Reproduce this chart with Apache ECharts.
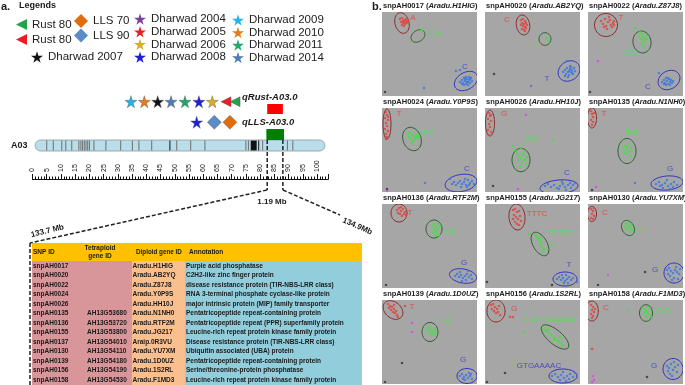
<!DOCTYPE html>
<html>
<head>
<meta charset="utf-8">
<script src="https://cdn.jsdelivr.net/npm/echarts@6/dist/echarts.min.js"></script>
<style>
html, body { margin: 0; padding: 0; background: #fff; }
#main { width: 685px; height: 385px; }
</style>
</head>
<body>
<div id="main"></div>
<script>
var FONT = "'Liberation Sans', Arial, sans-serif";

// ---- chromosome A03 (cM) ----
var bandPos = [5.0, 7.3, 10.3, 11.7, 13.8, 16.3, 17.0, 17.6, 18.2, 18.8, 19.4, 20.0, 21.6, 25.8, 31.0,
               35.1, 37.4, 41.9, 48.3, 50.7, 55.6, 60.6, 75.0, 75.9, 79.5, 80.9, 89.6, 91.5];
var darkBlock = [76.7, 78.8];
var qtlRust = [82.5, 88.0];
var qtlLLS = [82.2, 88.4];
var row1Traits = ['Dharwad 2009', 'Dharwad 2010', 'Dharwad 2007', 'Dharwad 2014', 'Dharwad 2011',
                  'Dharwad 2008', 'Dharwad 2006', 'Rust 80 ', 'Rust 80'];
var row1Pos = [34.6, 39.3, 44.0, 48.7, 53.6, 58.5, 63.2, 68.0, 71.2];
var row2Traits = ['Dharwad 2008', 'LLS 90', 'LLS 70'];
var row2Pos = [57.7, 63.9, 69.4];

// ---- gene table ----
var snpIds = ['snpAH0017', 'snpAH0020', 'snpAH0022', 'snpAH0024', 'snpAH0026', 'snpAH0135', 'snpAH0136',
              'snpAH0155', 'snpAH0137', 'snpAH0130', 'snpAH0139', 'snpAH0156', 'snpAH0158'];
var tetraIds = ['', '', '', '', '', 'AH13G53680', 'AH13G53720', 'AH13G53800', 'AH13G54010', 'AH13G54110',
                'AH13G54180', 'AH13G54190', 'AH13G54530'];
var diploidIds = ['Aradu.H1HIG', 'Aradu.AB2YQ', 'Aradu.Z87J8', 'Aradu.Y0P9S', 'Aradu.HH10J', 'Aradu.N1NH0',
                  'Aradu.RTF2M', 'Aradu.JG217', 'Araip.0R3VU', 'Aradu.YU7XM', 'Aradu.1D0UZ', 'Aradu.1S2RL', 'Aradu.F1MD3'];
var annotations = ['Purple acid phosphatase', 'C2H2-like zinc finger protein',
  'disease resistance protein (TIR-NBS-LRR class)', 'RNA 3-terminal phosphate cyclase-like protein',
  'major intrinsic protein (MIP) family transporter', 'Pentatricopeptide repeat-containing protein',
  'Pentatricopeptide repeat (PPR) superfamily protein', 'Leucine-rich repeat protein kinase family protein',
  'Disease resistance protein (TIR-NBS-LRR class)', 'Ubiquitin associated (UBA) protein',
  'Pentatricopeptide repeat-containing protein', 'Serine/threonine-protein phosphatase',
  'Leucine-rich repeat protein kinase family protein'];

// ---- genotyping cluster plots: [x, y, group]  group 0 red,1 green,2 blue,3 magenta,4 black ----
var panelSnp = ['snpAH0017', 'snpAH0020', 'snpAH0022', 'snpAH0024', 'snpAH0026', 'snpAH0135',
                'snpAH0136', 'snpAH0155', 'snpAH0130', 'snpAH0139', 'snpAH0156', 'snpAH0158'];
var panelGene = ['Aradu.H1HIG', 'Aradu.AB2YQ', 'Aradu.Z87J8', 'Aradu.Y0P9S', 'Aradu.HH10J', 'Aradu.N1NH0',
                 'Aradu.RTF2M', 'Aradu.JG217', 'Aradu.YU7XM', 'Aradu.1D0UZ', 'Aradu.1S2RL', 'Aradu.F1MD3'];

var pts0017 = [[18,7,0],[20,6,0],[22,8,0],[24,9,0],[19,10,0],[21,11,0],[23,12,0],[25,11,0],[20,13,0],[22,14,0],[24,7,0],[26,9,0],[21,9,0],[23,10,0],
  [38,19,1],[40,18,1],
  [78,70,2],[80,68,2],[81,71,2],[82,66,2],[83,69,2],[84,72,2],[85,67,2],[86,70,2],[87,68,2],[88,71,2],[89,66,2],[90,69,2],[82,73,2],[84,65,2],[86,73,2],[88,67,2],[80,72,2],[85,70,2],[87,65,2],[83,67,2],
  [74,59,2],[78,58,2],[42,76,2],[3,80,4]];
var ell0017 = [[20,11,7,10.5,-15,0],[36,24,7.5,5.5,-35,1],[84,69,12.5,8.5,-30,2]];
var lab0017 = [[31,6,'A',0],[53,22,'C:A',1],[83,55,'C',2]];

var pts0020 = [[36,8,0],[38,7,0],[40,9,0],[37,11,0],[39,12,0],[41,11,0],[38,14,0],[40,15,0],[42,13,0],[37,17,0],[39,18,0],[41,16,0],[36,13,0],[40,19,0],
  [61,26,1],[63,28,1],
  [78,60,2],[80,58,2],[81,62,2],[82,56,2],[83,60,2],[84,63,2],[85,57,2],[86,60,2],[87,58,2],[88,62,2],[89,56,2],[90,59,2],[83,65,2],[85,54,2],[80,64,2],[87,61,2],[84,59,2],[86,55,2],
  [82,49,2],[46,74,2],[9,62,4]];
var ell0020 = [[38,13,6.7,10,-10,0],[60,27,6,6.3,0,1],[84,59,11.5,9.5,-35,2]];
var lab0020 = [[22,8,'C',0],[48,34,'C:T',1],[62,67,'T',2]];

var pts0022 = [[13,9,0],[15,12,0],[17,7,0],[18,14,0],[20,10,0],[22,8,0],[23,13,0],[25,11,0],[26,9,0],[24,15,0],[19,17,0],[21,5,0],[16,15,0],[26,13,0],
  [52,20,1],[54,22,1],[55,25,1],[53,27,1],[56,28,1],[58,24,1],[57,30,1],[54,31,1],[55,34,1],[57,36,1],[51,24,1],[59,27,1],[47,16,1],
  [74,70,2],[76,68,2],[77,71,2],[78,66,2],[79,69,2],[80,72,2],[81,67,2],[82,70,2],[83,68,2],[84,71,2],[85,69,2],[78,73,2],[80,66,2],[82,73,2],[76,72,2],
  [71,61,2],[10,49,3],[2,80,4]];
var ell0022 = [[18,13,11.5,11.5,0,0],[54,30,9,11,-10,1],[81,68,11.5,9,-30,2]];
var lab0022 = [[33,6,'T',0],[41,41,'C:T',1],[60,75,'C',2]];

var pts0024 = [[4,4,0],[5,7,0],[3,10,0],[6,12,0],[4,15,0],[5,18,0],[3,21,0],[6,23,0],[4,26,0],[5,29,0],[4,31,0],[6,9,0],
  [26,26,1],[28,25,1],[30,27,1],[32,28,1],[34,29,1],[36,30,1],[29,31,1],[31,33,1],[27,29,1],[33,31,1],[35,27,1],[30,35,1],[37,28,1],
  [70,76,2],[72,74,2],[74,77,2],[76,75,2],[78,73,2],[80,76,2],[82,74,2],[84,77,2],[86,72,2],[88,75,2],[90,73,2],[92,76,2],[79,79,2],[83,71,2],[85,79,2],[87,77,2],
  [43,75,2],[68,71,2],[5,81,4],[5,83,3]];
var ell0024 = [[5,16,4,15,0,0],[30,31,9,12,-20,1],[79,75,16,8.5,-10,2]];
var lab0024 = [[17,6,'T',0],[46,25,'T:C',1],[85,61,'C',2]];

var pts0026 = [[4,5,0],[5,8,0],[3,11,0],[6,13,0],[4,16,0],[5,19,0],[3,22,0],[6,24,0],[4,27,0],[6,7,0],
  [30,42,1],[32,45,1],[34,48,1],[36,50,1],[38,47,1],[40,52,1],[37,55,1],[35,58,1],[39,44,1],[42,49,1],[33,52,1],[41,56,1],[36,40,1],[28,38,1],[68,32,1],
  [60,78,2],[63,76,2],[66,79,2],[69,77,2],[72,80,2],[75,78,2],[78,76,2],[80,79,2],[83,77,2],[86,80,2],[88,77,2],[90,75,2],[74,81,2],[81,82,2],[77,74,2],[85,75,2],
  [41,7,3],[33,81,3],[8,78,4]];
var ell0026 = [[5,15,4.5,13,0,0],[36,52,9,11.7,0,1],[74,79,19,7,-5,2]];
var lab0026 = [[19,6,'G',0],[47,31,'G:C',1],[82,65,'C',2]];

var pts0135 = [[3,3,0],[4,6,0],[5,9,0],[3,12,0],[5,14,0],[4,17,0],[6,5,0],
  [35,40,1],[37,38,1],[39,42,1],[41,44,1],[43,40,1],[38,46,1],[40,36,1],[42,48,1],[36,44,1],[44,43,1],[39,39,1],
  [68,76,2],[71,74,2],[74,77,2],[77,75,2],[80,78,2],[83,76,2],[86,74,2],[89,77,2],[75,80,2],[82,81,2],[79,72,2],[85,79,2],[72,78,2],
  [47,75,2],[8,79,3],[4,82,4]];
var ell0135 = [[4,10,4.5,10,0,0],[39,43,9,12.5,0,1],[79,75,16,7,-5,2]];
var lab0135 = [[16,6,'T',0],[44,25,'T:G',1],[82,61,'G',2]];

var pts0136 = [[15,6,0],[17,4,0],[19,7,0],[21,5,0],[23,8,0],[18,10,0],[20,12,0],[22,10,0],[16,9,0],[24,11,0],[19,3,0],
  [50,22,1],[52,20,1],[54,23,1],[56,25,1],[53,27,1],[55,29,1],[57,31,1],[51,29,1],[58,22,1],[54,32,1],[52,25,1],[56,20,1],
  [73,72,2],[75,70,2],[77,73,2],[79,71,2],[81,74,2],[83,72,2],[85,70,2],[87,73,2],[89,71,2],[80,77,2],[84,76,2],[78,68,2],[86,67,2],[90,75,2],
  [4,81,4]];
var ell0136 = [[17,9,8,9,0,0],[52,25,8,9,0,1],[81,72,13.7,7,10,2]];
var lab0136 = [[28,9,'T',0],[68,28,'TG',1],[82,59,'G',2]];

var pts0155 = [[28,6,0],[30,5,0],[32,8,0],[34,7,0],[29,11,0],[31,13,0],[33,15,0],[35,12,0],[30,18,0],[32,20,0],[36,17,0],[34,21,0],[28,15,0],
  [50,31,1],[52,33,1],[54,36,1],[56,38,1],[55,41,1],[57,43,1],[59,45,1],[58,48,1],[53,35,1],[56,34,1],[44,30,1],[67,41,1],
  [72,75,2],[74,73,2],[76,76,2],[78,74,2],[80,77,2],[82,75,2],[84,73,2],[86,76,2],[88,74,2],[79,79,2],[83,79,2],[77,71,2],[81,71,2],[92,78,2],
  [67,81,4],[2,78,4]];
var ell0155 = [[32,13,8,13,-5,0],[55,40,13,7,60,1],[80,75,12,7,0,2]];
var lab0155 = [[52,10,'TTTC',0],[79,29,'TTTC:T',1],[84,61,'T',2]];

var pts0130 = [[3,5,0],[5,7,0],[4,10,0],[6,12,0],[3,14,0],[5,15,0],[6,4,0],
  [38,20,1],[40,22,1],[42,24,1],[44,26,1],[39,25,1],[41,28,1],[43,21,1],[37,23,1],[40,18,1],
  [79,66,2],[81,64,2],[83,67,2],[85,69,2],[87,66,2],[89,68,2],[91,70,2],[82,72,2],[86,74,2],[88,63,2],[80,70,2],[84,76,2],[90,75,2],[92,65,2],
  [20,71,3],[57,68,4],[10,81,4]];
var ell0130 = [[4,10,4.5,7.5,0,0],[40,24,6,8,-30,1],[86,69,10,10,0,2]];
var lab0130 = [[17,9,'C',0],[55,26,'G:C',1],[67,66,'G',2]];

var pts0139 = [[6,4,0],[8,6,0],[10,7,0],[12,9,0],[9,10,0],[11,12,0],[13,13,0],[15,15,0],[14,11,0],[16,17,0],[7,8,0],[12,5,0],[23,6,0],
  [45,28,1],[47,27,1],[49,30,1],[51,31,1],[53,29,1],[48,33,1],[50,35,1],[52,34,1],[46,31,1],[54,32,1],
  [78,76,2],[80,74,2],[82,77,2],[84,75,2],[86,78,2],[88,76,2],[90,79,2],[83,80,2],[87,73,2],[81,79,2],[89,74,2],
  [30,23,3],[30,32,3],[20,63,4],[3,82,4]];
var ell0139 = [[11,10,11,8,40,0],[48,32,8,9.5,0,1],[85,76,10,7.5,0,2]];
var lab0139 = [[30,7,'T',0],[63,22,'T:G',1],[81,60,'G',2]];

var pts0156 = [[6,5,0],[8,4,0],[10,7,0],[12,9,0],[9,11,0],[11,13,0],[13,12,0],[15,15,0],[7,9,0],[14,6,0],[25,17,0],[28,17,0],
  [58,29,1],[60,30,1],[62,31,1],[64,33,1],[66,35,1],[68,36,1],[70,38,1],[72,40,1],[74,41,1],[76,43,1],[78,45,1],[63,29,1],[69,40,1],[75,37,1],[39,32,1],
  [67,76,2],[70,74,2],[73,77,2],[76,75,2],[79,78,2],[82,76,2],[85,74,2],[88,77,2],[75,80,2],[81,81,2],[78,72,2],[84,79,2],[90,73,2],
  [20,73,4],[2,82,4]];
var ell0156 = [[11,11,9,11,0,0],[70,37,17,7,40,1],[78,76,14,7,0,2]];
var lab0156 = [[29,9,'G',0],[64,20,'G:GTGAAAAC',1],[54,66,'GTGAAAAC',2]];

var pts0158 = [[3,5,0],[5,7,0],[4,10,0],[6,12,0],[3,14,0],[5,16,0],[7,9,0],[4,18,0],[4,49,0],
  [55,8,1],[57,10,1],[59,12,1],[61,14,1],[58,16,1],[60,7,1],[62,10,1],[56,13,1],[63,17,1],[40,10,1],
  [79,66,2],[81,68,2],[83,64,2],[85,70,2],[87,67,2],[89,72,2],[82,74,2],[86,62,2],[90,65,2],[84,76,2],[80,71,2],
  [5,76,3],[6,80,3],[4,82,3],[59,77,4]];
var ell0158 = [[4,11,6.3,10,0,0],[58,13,6.5,8.3,0,1],[85,69,10,10.5,0,2]];
var lab0158 = [[18,8,'C',0],[75,11,'C:G',1],[66,66,'G',2]];

var panelPts = [pts0017, pts0020, pts0022, pts0024, pts0026, pts0135, pts0136, pts0155, pts0130, pts0139, pts0156, pts0158];
var panelEll = [ell0017, ell0020, ell0022, ell0024, ell0026, ell0135, ell0136, ell0155, ell0130, ell0139, ell0156, ell0158];
var panelLab = [lab0017, lab0020, lab0022, lab0024, lab0026, lab0135, lab0136, lab0155, lab0130, lab0139, lab0156, lab0158];

// ---- styles ----
var STAR = 'path://M50 0L61 35L98 35L68 57L79 91L50 70L21 91L32 57L2 35L39 35Z';
var TRI = 'path://M0 50L100 0L100 100Z';
var traitStyle = {
  'Rust 80':      { sym: TRI, color: '#22a24a', size: 10 },
  'Rust 80 ':     { sym: TRI, color: '#ec1c24', size: 10 },
  'LLS 70':       { sym: 'diamond', color: '#e36c0a', size: 14 },
  'LLS 90':       { sym: 'diamond', color: '#5b8cc7', size: 14 },
  'Dharwad 2004': { sym: STAR, color: '#7b3f9e', size: 12 },
  'Dharwad 2005': { sym: STAR, color: '#ec1c24', size: 12 },
  'Dharwad 2006': { sym: STAR, color: '#d8ad2c', size: 12 },
  'Dharwad 2007': { sym: STAR, color: '#111111', size: 12 },
  'Dharwad 2008': { sym: STAR, color: '#1f1fd6', size: 12 },
  'Dharwad 2009': { sym: STAR, color: '#22b4e6', size: 12 },
  'Dharwad 2010': { sym: STAR, color: '#e47b22', size: 12 },
  'Dharwad 2011': { sym: STAR, color: '#1fa86c', size: 12 },
  'Dharwad 2014': { sym: STAR, color: '#4e7db4', size: 12 }
};
var legendGroups = [
  { left: 16, top: 18.5, h: 11, gap: 3, names: ['Rust 80', 'Rust 80 '] },
  { left: 31, top: 51, h: 12, gap: 2, names: ['Dharwad 2007'] },
  { left: 74, top: 14, h: 14, gap: 0.5, names: ['LLS 70', 'LLS 90'] },
  { left: 134, top: 13, h: 12, gap: 0.7, names: ['Dharwad 2004', 'Dharwad 2005', 'Dharwad 2006', 'Dharwad 2008'] },
  { left: 232, top: 14, h: 12, gap: 0.5, names: ['Dharwad 2009', 'Dharwad 2010', 'Dharwad 2011', 'Dharwad 2014'] }
];
var pointColors = ['#e0463e', '#3fe23f', '#3b78e0', '#e044e0', '#333333'];
var ellColors = ['#8b1c1c', '#1d5a1d', '#2323c8'];
var labColors = ['#e83a30', '#3af03a', '#3636c8'];
var panelLeft = [382, 485, 588];
var panelTop = [12, 108, 204, 300];
var PW = 95, PH = 84;

var dom = document.getElementById('main');
var myChart = echarts.init(dom, null, { renderer: 'canvas' });

var grids = [{ left: 32.5, top: 95, width: 104 * 2.845, height: 84 }];
var xAxes = [{
  type: 'value', gridIndex: 0, min: 0, max: 104, interval: 5, position: 'bottom',
  axisLine: { onZero: false, lineStyle: { color: '#111', width: 1 } },
  axisTick: { inside: true, length: 5, lineStyle: { color: '#111' } },
  minorTick: { show: true, splitNumber: 5, length: 2.5, lineStyle: { color: '#111' } },
  axisLabel: { inside: true, rotate: 90, margin: 7, fontSize: 7, color: '#111',
    fontFamily: "'Liberation Sans Narrow', 'Liberation Sans', Arial",
    formatter: function (v) { return v > 100 ? '' : v; } },
  splitLine: { show: false }
}];
var yAxes = [{ type: 'value', gridIndex: 0, min: 0, max: 84, inverse: true, show: false }];
var titles = [];
var series = [];

// chromosome body and bands
series.push({
  type: 'custom', xAxisIndex: 0, yAxisIndex: 0, silent: true, clip: false, z: 2,
  data: [[0.9, 102.8]],
  renderItem: function (params, api) {
    var p0 = api.coord([api.value(0), 45]);
    var p1 = api.coord([api.value(1), 56]);
    return { type: 'rect', shape: { x: p0[0], y: p0[1], width: p1[0] - p0[0], height: p1[1] - p0[1], r: 5.5 },
      style: { fill: '#b9dde9', stroke: '#8a9aa0', lineWidth: 0.8 } };
  }
});
series.push({
  type: 'custom', xAxisIndex: 0, yAxisIndex: 0, silent: true, clip: false, z: 3,
  data: bandPos.map(function (b) { return [b, b]; }).concat([darkBlock]),
  renderItem: function (params, api) {
    var a = api.value(0), b = api.value(1);
    var p0 = api.coord([a, 45.6]);
    var p1 = api.coord([b, 55.4]);
    var w = Math.max(p1[0] - p0[0], 1);
    var dark = (b > a) || a === 48.3 || a === 79.5;
    return { type: 'rect', shape: { x: p0[0] - (b > a ? 0 : 0.5), y: p0[1], width: w, height: p1[1] - p0[1] },
      style: { fill: dark ? '#111' : '#6e6e6e' } };
  }
});
// QTL boxes and dashed zoom lines
series.push({
  type: 'custom', xAxisIndex: 0, yAxisIndex: 0, silent: true, clip: false, z: 4,
  data: [[qtlRust[0], qtlRust[1], 9, 19, 0], [qtlLLS[0], qtlLLS[1], 34, 45, 1]],
  renderItem: function (params, api) {
    var p0 = api.coord([api.value(0), api.value(2)]);
    var p1 = api.coord([api.value(1), api.value(3)]);
    return { type: 'rect', shape: { x: p0[0], y: p0[1], width: p1[0] - p0[0], height: p1[1] - p0[1] },
      style: { fill: api.value(4) === 0 ? '#ff0000' : '#008000' } };
  }
});
series.push({
  type: 'custom', xAxisIndex: 0, yAxisIndex: 0, silent: true, clip: false, z: 5,
  data: [[qtlRust[0]], [qtlRust[1]]],
  renderItem: function (params, api) {
    var p0 = api.coord([api.value(0), 45]);
    var p1 = api.coord([api.value(0), 95]);
    return { type: 'line', shape: { x1: p0[0], y1: p0[1], x2: p1[0], y2: p1[1] },
      style: { stroke: '#222', lineWidth: 1.5, lineDash: [4, 2] } };
  }
});

// trait markers above the chromosome
Object.keys(traitStyle).forEach(function (name) {
  var st = traitStyle[name];
  var data = [];
  row1Traits.forEach(function (t, i) { if (t === name) data.push([row1Pos[i], 6.7]); });
  row2Traits.forEach(function (t, i) { if (t === name) data.push([row2Pos[i], 27.3]); });
  series.push({
    name: name, type: 'scatter', xAxisIndex: 0, yAxisIndex: 0, z: 6,
    symbol: st.sym, symbolSize: st.size, data: data,
    itemStyle: { color: st.color, borderColor: '#555', borderWidth: 0.4, opacity: 1 }
  });
});

function ellipseItem(params, api) {
  var cx = api.value(0), cy = api.value(1), rx = api.value(2), ry = api.value(3);
  var a = api.value(4) * Math.PI / 180;
  var pts = [];
  for (var k = 0; k < 48; k++) {
    var t = k / 48 * 2 * Math.PI;
    pts.push(api.coord([
      cx + rx * Math.cos(t) * Math.cos(a) - ry * Math.sin(t) * Math.sin(a),
      cy + rx * Math.cos(t) * Math.sin(a) + ry * Math.sin(t) * Math.cos(a)
    ]));
  }
  return { type: 'polygon', shape: { points: pts },
    style: { fill: 'none', stroke: ellColors[api.value(5)], lineWidth: 0.9 } };
}

panelSnp.forEach(function (snp, i) {
  var gi = i + 1;
  var left = panelLeft[i % 3], top = panelTop[Math.floor(i / 3)];
  grids.push({ left: left, top: top, width: PW, height: PH, show: true, backgroundColor: '#a6a6a6', borderWidth: 0 });
  xAxes.push({ type: 'value', gridIndex: gi, min: 0, max: PW, show: false });
  yAxes.push({ type: 'value', gridIndex: gi, min: 0, max: PH, inverse: true, show: false });
  titles.push({
    text: snp + ' ({i|' + panelGene[i] + '})', left: left + 1, top: top - 10, padding: 0,
    textStyle: { fontSize: 7.5, fontWeight: 'bold', color: '#222', fontFamily: FONT,
      rich: { i: { fontSize: 7.5, fontWeight: 'bold', fontStyle: 'italic', color: '#222', fontFamily: FONT } } }
  });
  series.push({
    type: 'scatter', xAxisIndex: gi, yAxisIndex: gi, symbol: 'circle', symbolSize: 2.6, silent: true,
    data: panelPts[i],
    itemStyle: { color: function (p) { return pointColors[p.data[2]]; } }
  });
  series.push({
    type: 'custom', xAxisIndex: gi, yAxisIndex: gi, silent: true, clip: true,
    data: panelEll[i], renderItem: ellipseItem
  });
  series.push({
    type: 'scatter', xAxisIndex: gi, yAxisIndex: gi, symbolSize: 0, silent: true,
    data: panelLab[i].map(function (l) {
      return { value: [l[0], l[1]], name: l[2],
        label: { show: true, position: 'inside', formatter: l[2], color: labColors[l[3]],
          fontSize: 8, fontFamily: FONT } };
    })
  });
});

// legends
var legends = legendGroups.map(function (g) {
  return {
    left: g.left, top: g.top, orient: 'vertical', padding: 0, itemGap: g.gap,
    itemWidth: g.h, itemHeight: g.h, selectedMode: false,
    data: g.names.map(function (n) {
      return { name: n, icon: traitStyle[n].sym,
        itemStyle: { color: traitStyle[n].color, borderWidth: 0 } };
    }),
    textStyle: { fontSize: 11.5, color: '#222', fontFamily: FONT, lineHeight: 11 }
  };
});

// graphic: labels, connectors and gene table
var TX = '#1a1a1a';
function txt(x, y, s, font, opt) {
  opt = opt || {};
  return { type: 'text', x: x, y: y, rotation: opt.rot || 0, z: 50,
    style: { text: s, font: font, fill: opt.fill || TX, align: opt.align || 'left', textAlign: opt.align || 'left',
      verticalAlign: 'middle', textVerticalAlign: 'middle', lineHeight: opt.lh } };
}
var DASH = { stroke: '#222', lineWidth: 1.5, lineDash: [4, 2] };
var graphics = [
  txt(1, 7, 'a.', 'bold 11px ' + FONT),
  txt(19, 6, 'Legends', 'bold 9px ' + FONT),
  txt(372, 7, 'b.', 'bold 11px ' + FONT),
  txt(11, 145.5, 'A03', 'bold 9px ' + FONT),
  txt(242, 97, 'qRust-A03.0', 'italic bold 9.5px ' + FONT),
  txt(242, 122.5, 'qLLS-A03.0', 'italic bold 9.5px ' + FONT),
  { type: 'line', shape: { x1: 267, y1: 190, x2: 30, y2: 243 }, style: DASH, z: 40 },
  { type: 'line', shape: { x1: 283, y1: 190, x2: 340, y2: 215 }, style: DASH, z: 40 },
  { type: 'line', shape: { x1: 30, y1: 243, x2: 30, y2: 385 }, style: DASH, z: 40 },
  txt(272, 202, '1.19 Mb', 'bold 8px ' + FONT, { align: 'center' }),
  txt(31, 235, '133.7 Mb', 'bold 8px ' + FONT, { rot: 0.24 }),
  txt(343, 220, '134.9Mb', 'bold 8px ' + FONT, { rot: -0.41 }),
  { type: 'rect', shape: { x: 32, y: 243, width: 330, height: 18 }, style: { fill: '#ffc000' }, z: 30 },
  { type: 'rect', shape: { x: 32, y: 261, width: 100, height: 124 }, style: { fill: '#d9969a' }, z: 30 },
  { type: 'rect', shape: { x: 132, y: 261, width: 53, height: 124 }, style: { fill: '#fabf8f' }, z: 30 },
  { type: 'rect', shape: { x: 185, y: 261, width: 177, height: 124 }, style: { fill: '#92cddc' }, z: 30 },
  txt(33, 252, 'SNP ID', 'bold 6.5px ' + FONT),
  txt(100, 252, 'Tetraploid\ngene ID', 'bold 6.5px ' + FONT, { align: 'center', lh: 8.5 }),
  txt(136, 252, 'Diploid gene ID', 'bold 6.3px ' + FONT),
  txt(189, 252, 'Annotation', 'bold 6.5px ' + FONT)
];
snpIds.forEach(function (s, i) {
  var y = 266 + i * 9.5;
  graphics.push(txt(33, y, s, 'bold 6.5px ' + FONT));
  graphics.push(txt(87, y, tetraIds[i], 'bold 6.5px ' + FONT));
  graphics.push(txt(132.5, y, diploidIds[i], 'bold 6.5px ' + FONT));
  graphics.push(txt(186, y, annotations[i], 'bold 6.5px ' + FONT));
});

var option = {
  animation: false,
  backgroundColor: '#fff',
  textStyle: { fontFamily: FONT },
  title: titles,
  legend: legends,
  grid: grids,
  xAxis: xAxes,
  yAxis: yAxes,
  graphic: graphics,
  series: series
};

if (option && typeof option === 'object') {
  myChart.setOption(option, true);
}

window.addEventListener('resize', function () {
  myChart.resize();
});
</script>
</body>
</html>
